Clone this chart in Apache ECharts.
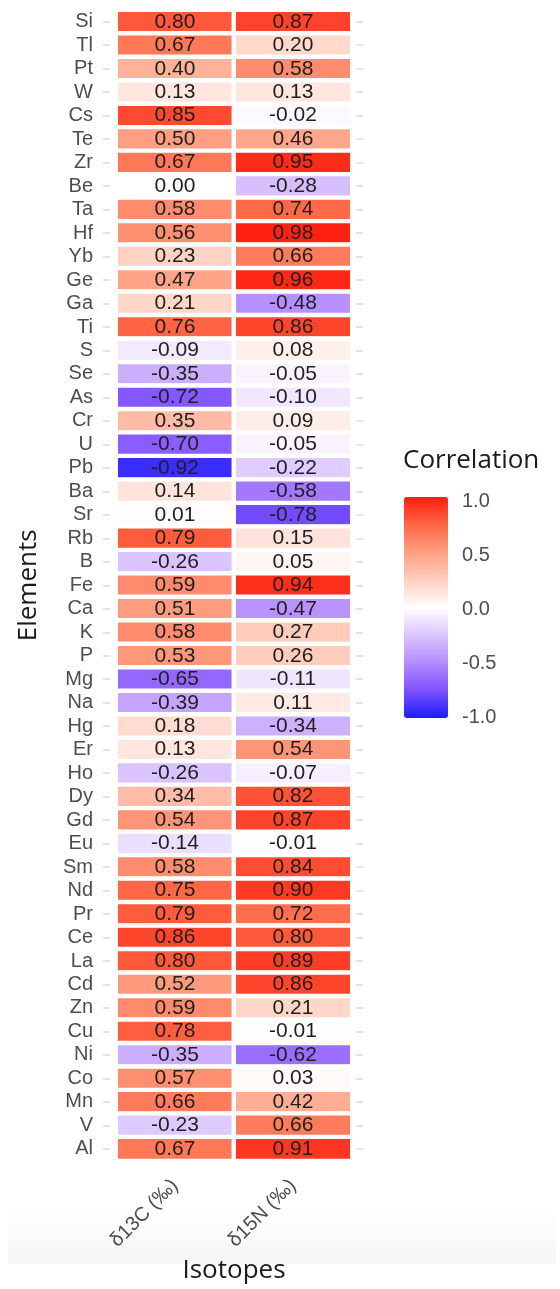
<!DOCTYPE html>
<html>
<head>
<meta charset="utf-8">
<script src="https://cdn.jsdelivr.net/npm/echarts@6/dist/echarts.min.js"></script>
<style>
  html, body { margin: 0; padding: 0; background: #fff; }
  #chart { width: 560px; height: 1289px; }
</style>
</head>
<body>
<div id="chart"></div>
<script>
// rows, top to bottom
const elements = ['Si', 'Tl', 'Pt', 'W', 'Cs', 'Te', 'Zr', 'Be', 'Ta', 'Hf', 'Yb', 'Ge', 'Ga', 'Ti', 'S', 'Se', 'As', 'Cr', 'U', 'Pb', 'Ba', 'Sr', 'Rb', 'B', 'Fe', 'Ca', 'K', 'P', 'Mg', 'Na', 'Hg', 'Er', 'Ho', 'Dy', 'Gd', 'Eu', 'Sm', 'Nd', 'Pr', 'Ce', 'La', 'Cd', 'Zn', 'Cu', 'Ni', 'Co', 'Mn', 'V', 'Al']
const isotopes = ['δ13C (‰)', 'δ15N (‰)']
const d13C = [0.80, 0.67, 0.40, 0.13, 0.85, 0.50, 0.67, 0.00, 0.58, 0.56, 0.23, 0.47, 0.21, 0.76, -0.09, -0.35, -0.72, 0.35, -0.70, -0.92, 0.14, 0.01, 0.79, -0.26, 0.59, 0.51, 0.58, 0.53, -0.65, -0.39, 0.18, 0.13, -0.26, 0.34, 0.54, -0.14, 0.58, 0.75, 0.79, 0.86, 0.80, 0.52, 0.59, 0.78, -0.35, 0.57, 0.66, -0.23, 0.67]
const d15N = [0.87, 0.20, 0.58, 0.13, -0.02, 0.46, 0.95, -0.28, 0.74, 0.98, 0.66, 0.96, -0.48, 0.86, 0.08, -0.05, -0.10, 0.09, -0.05, -0.22, -0.58, -0.78, 0.15, 0.05, 0.94, -0.47, 0.27, 0.26, -0.11, 0.11, -0.34, 0.54, -0.07, 0.82, 0.87, -0.01, 0.84, 0.90, 0.72, 0.80, 0.89, 0.86, 0.21, -0.01, -0.62, 0.03, 0.42, 0.66, 0.91]
const legendTicks = [-1, -0.5, 0, 0.5, 1]
// blue - white - red, stops taken along a Lab path
const palette = ['#1c1cff', '#7e51ff', '#b38bff', '#dcc5ff', '#ffffff', '#ffcfbf', '#ff9e81', '#ff6746', '#ff1c0e']

function cells () {
  let out = []
  elements.forEach((el, i) => {
    out.push([0, i, d13C[i]])
    out.push([1, i, d15N[i]])
  })
  return out
}

const gray = '#4d4d4d'
const tickColor = '#dcdcdc'
const sans = 'Liberation Sans'

let chart = echarts.init(document.getElementById('chart'))
let option = {
  backgroundColor: '#fff',
  animation: false,
  graphic: [
    {
      type: 'rect',
      z: -10,
      silent: true,
      shape: {x: 8, y: 1210, width: 548, height: 54},
      style: {
        fill: new echarts.graphic.LinearGradient(0, 0, 0, 1, [
          {offset: 0, color: 'rgba(245,245,245,0)'},
          {offset: 1, color: 'rgba(245,245,245,1)'}
        ])
      }
    }
  ],
  title: {
    text: 'Correlation',
    left: 403,
    top: 448,
    padding: 0,
    textStyle: {fontFamily: 'Open Sans', fontSize: 26, fontWeight: 'normal', color: '#1a1a1a'}
  },
  grid: [
    {left: 116, top: 10, width: 236, height: 1155},
    {left: 404, top: 501, width: 44, height: 216}
  ],
  xAxis: [
    {
      type: 'category',
      data: isotopes,
      gridIndex: 0,
      axisLine: {show: false},
      axisTick: {show: false},
      splitLine: {show: false},
      axisLabel: {rotate: 45, margin: 22, color: gray, fontFamily: sans, fontSize: 20},
      name: 'Isotopes',
      nameLocation: 'middle',
      nameGap: 94,
      nameTextStyle: {fontFamily: 'Open Sans', fontSize: 26, color: '#1a1a1a'}
    },
    {type: 'value', gridIndex: 1, show: false}
  ],
  yAxis: [
    {
      type: 'category',
      data: elements,
      gridIndex: 0,
      inverse: true,
      offset: 6,
      axisLine: {show: false},
      axisTick: {show: true, alignWithLabel: true, length: 7, lineStyle: {color: tickColor, width: 1.5}},
      splitLine: {show: false},
      axisLabel: {interval: 0, margin: 17, color: gray, fontFamily: sans, fontSize: 20},
      name: 'Elements',
      nameLocation: 'middle',
      nameRotate: 90,
      nameGap: 68,
      nameTextStyle: {fontFamily: 'Open Sans', fontSize: 26, color: '#1a1a1a'}
    },
    {
      type: 'category',
      data: elements,
      gridIndex: 0,
      inverse: true,
      position: 'right',
      offset: 4,
      axisLine: {show: false},
      axisTick: {show: true, interval: 0, alignWithLabel: true, length: 7, lineStyle: {color: tickColor, width: 1.5}},
      axisLabel: {show: false},
      splitLine: {show: false}
    },
    {
      type: 'value',
      gridIndex: 1,
      position: 'right',
      min: -1,
      max: 1,
      interval: 0.5,
      axisLine: {show: false},
      axisTick: {show: true, inside: true, length: 9, lineStyle: {color: '#fff', width: 1.5}},
      splitLine: {show: false},
      axisLabel: {
        margin: 14,
        color: gray,
        fontFamily: sans,
        fontSize: 20,
        formatter: v => legendTicks.indexOf(v) >= 0 ? v.toFixed(1) : ''
      }
    },
    {
      type: 'value',
      gridIndex: 1,
      position: 'left',
      min: -1,
      max: 1,
      interval: 0.5,
      axisLine: {show: false},
      axisTick: {show: true, inside: true, length: 9, lineStyle: {color: '#fff', width: 1.5}},
      axisLabel: {show: false},
      splitLine: {show: false}
    }
  ],
  visualMap: {
    type: 'continuous',
    min: -1,
    max: 1,
    seriesIndex: 0,
    calculable: false,
    left: 404,
    top: 497,
    padding: 0,
    itemWidth: 44,
    itemHeight: 221,
    text: null,
    inRange: {color: palette}
  },
  series: [
    {
      type: 'heatmap',
      xAxisIndex: 0,
      yAxisIndex: 0,
      data: cells(),
      itemStyle: {borderColor: '#fff', borderWidth: 4.4},
      label: {
        show: true,
        color: '#1f1f1f',
        fontFamily: sans,
        fontSize: 21,
        formatter: p => p.value[2].toFixed(2)
      },
      emphasis: {disabled: true}
    }
  ]
}
chart.setOption(option)
window.addEventListener('resize', () => {
  chart.resize()
})
</script>
</body>
</html>
